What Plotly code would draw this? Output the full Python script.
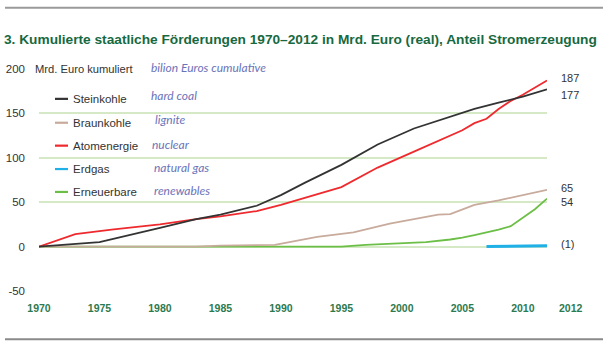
import plotly.graph_objects as go

# ---------------- data ----------------
stein_x = [1970, 1975, 1980, 1983, 1985, 1988, 1990, 1992, 1995, 1998, 2001, 2004, 2006, 2008, 2010, 2012]
stein_y = [0, 5, 21, 31, 36, 46, 58, 72, 92, 115, 133, 146, 155, 162, 169, 177]

braun_x = [1970, 1983, 1985, 1989.5, 1993, 1996, 1999, 2001, 2003, 2004, 2006, 2008, 2010, 2012]
braun_y = [0, 0, 1, 2, 11, 16, 26, 31, 36, 36.5, 47, 52, 58, 64]

atom_x = [1970, 1973, 1976, 1980, 1983, 1985, 1988, 1990, 1995, 1998, 2001, 2004, 2005, 2006, 2007, 2008, 2009, 2010, 2011, 2012]
atom_y = [0, 14, 19, 25, 31, 34, 40, 47, 67, 89, 107, 125, 131, 139, 144, 155, 164, 171, 179, 187]

erdgas_x = [2007, 2012]
erdgas_y = [0, 1]

erneu_x = [1970, 1995, 1997, 2000, 2002, 2004, 2005, 2006, 2007, 2008, 2009, 2010, 2011, 2012]
erneu_y = [0, 0, 2, 3.5, 5, 8, 10, 13, 16, 19, 23, 32, 42, 54]

series_names = ["Steinkohle", "Braunkohle", "Atomenergie", "Erdgas", "Erneuerbare"]
series_en = ["hard coal", "lignite", "nuclear", "natural gas", "renewables"]
series_colors = ["#333333", "#c8ab9c", "#ee2a2e", "#1fb0e8", "#6cbf46"]
end_labels = ["177", "65", "187", "(1)", "54"]

x_ticks = [1970, 1975, 1980, 1985, 1990, 1995, 2000, 2005, 2010]
x_last_label = "2012"
y_ticks = [-50, 0, 50, 100, 150, 200]

title = "3. Kumulierte staatliche Förderungen 1970–2012 in Mrd. Euro (real), Anteil Stromerzeugung"

# ---------------- layout helpers ----------------
W, H = 615, 350
L, R, T, B = 39, 547, 68.5, 291.5


def pxx(x):
    return (x - L) / (R - L)


def pxy(y):
    return (B - y) / (B - T)


fig = go.Figure()

data = {
    "Steinkohle": (stein_x, stein_y),
    "Braunkohle": (braun_x, braun_y),
    "Atomenergie": (atom_x, atom_y),
    "Erdgas": (erdgas_x, erdgas_y),
    "Erneuerbare": (erneu_x, erneu_y),
}
widths = {"Steinkohle": 1.8, "Braunkohle": 1.8, "Atomenergie": 1.8, "Erdgas": 3, "Erneuerbare": 1.8}
draw_order = ["Erneuerbare", "Braunkohle", "Atomenergie", "Steinkohle", "Erdgas"]
for name in draw_order:
    i = series_names.index(name)
    xs, ys = data[name]
    fig.add_trace(go.Scatter(x=xs, y=ys, mode="lines", name=name, showlegend=False,
                             line=dict(color=series_colors[i], width=widths[name]),
                             hoverinfo="x+y+name"))

annotations = []
shapes = []

# title
annotations.append(dict(text="<b>" + title + "</b>", xref="paper", yref="paper",
                        x=pxx(2), y=pxy(39), xanchor="left", yanchor="middle", showarrow=False,
                        font=dict(family="Liberation Sans", size=13.7, color="#17693f")))
# top & bottom rules
shapes.append(dict(type="line", xref="paper", yref="paper", x0=pxx(5), x1=pxx(603), y0=pxy(7), y1=pxy(7),
                   line=dict(color="#9a9a9a", width=2)))
shapes.append(dict(type="line", xref="paper", yref="paper", x0=pxx(5), x1=pxx(603), y0=pxy(340), y1=pxy(340),
                   line=dict(color="#8a8a8a", width=2)))

# unit label with white backing over gridline
shapes.append(dict(type="rect", xref="paper", yref="paper", x0=pxx(36), x1=pxx(146), y0=pxy(75), y1=pxy(62),
                   fillcolor="white", line=dict(width=0), layer="above"))
annotations.append(dict(text="Mrd. Euro kumuliert", xref="paper", yref="paper", x=pxx(33), y=pxy(68.5),
                        xanchor="left", yanchor="middle", showarrow=False,
                        font=dict(family="Liberation Sans", size=11.2, color="#333333")))
annotations.append(dict(text="<i>bilion Euros cumulative</i>", xref="paper", yref="paper", x=pxx(149), y=pxy(66.5),
                        xanchor="left", yanchor="middle", showarrow=False,
                        font=dict(family="Lato", size=12, color="#6b73b9")))

# manual legend
leg_y = [98.5, 122.5, 145.5, 169, 192]
en_y = [95.5, 119.5, 144.5, 167.5, 190.5]
en_x = [149, 153, 150, 152, 152]
for i, name in enumerate(series_names):
    shapes.append(dict(type="line", xref="paper", yref="paper", x0=pxx(55), x1=pxx(68),
                       y0=pxy(leg_y[i]), y1=pxy(leg_y[i]),
                       line=dict(color=series_colors[i], width=2.2)))
    annotations.append(dict(text=name, xref="paper", yref="paper", x=pxx(71), y=pxy(leg_y[i]),
                            xanchor="left", yanchor="middle", showarrow=False,
                            font=dict(family="Liberation Sans", size=11.5, color="#333333")))
    annotations.append(dict(text="<i>" + series_en[i] + "</i>", xref="paper", yref="paper", x=pxx(en_x[i]),
                            y=pxy(en_y[i]), xanchor="left", yanchor="middle", showarrow=False,
                            font=dict(family="Lato", size=12, color="#6b73b9")))

# end labels
end_label_y = {"Atomenergie": 190, "Steinkohle": 171, "Braunkohle": 66, "Erneuerbare": 50, "Erdgas": 2.5}
for i, name in enumerate(series_names):
    annotations.append(dict(text=end_labels[i], xref="x", yref="y", x=2012, y=end_label_y[name],
                            xanchor="left", yanchor="middle", xshift=12, showarrow=False,
                            font=dict(family="Liberation Sans", size=11, color="#333333")))

# extra x label "2012" (placed right of the plot, like the reference)
annotations.append(dict(text="<b>" + x_last_label + "</b>", xref="paper", yref="paper", x=pxx(571), y=pxy(309),
                        xanchor="center", yanchor="middle", showarrow=False,
                        font=dict(family="Liberation Sans", size=10.5, color="#2d7a50")))

fig.update_layout(
    width=W, height=H,
    margin=dict(l=L, r=W - R, t=T, b=H - B),
    plot_bgcolor="white", paper_bgcolor="white",
    annotations=annotations, shapes=shapes,
    showlegend=False,
)
fig.update_xaxes(range=[1970, 2012], tickvals=x_ticks, ticktext=["<b>%d</b>" % v for v in x_ticks],
                 showgrid=False, zeroline=False, showline=False, ticks="", automargin=False,
                 tickfont=dict(family="Liberation Sans", size=10.5, color="#2d7a50"),
                 ticklabelstandoff=9)
fig.update_yaxes(range=[-50, 200], tickvals=y_ticks, ticktext=["-50", "0", "50", "100", "150", "200"],
                 showgrid=True, gridcolor="#d6e9c6", gridwidth=1.5, zeroline=False, showline=False,
                 ticks="", automargin=False,
                 tickfont=dict(family="Liberation Sans", size=11.5, color="#333333"),
                 ticklabelstandoff=13)

fig.write_html("out.html")
